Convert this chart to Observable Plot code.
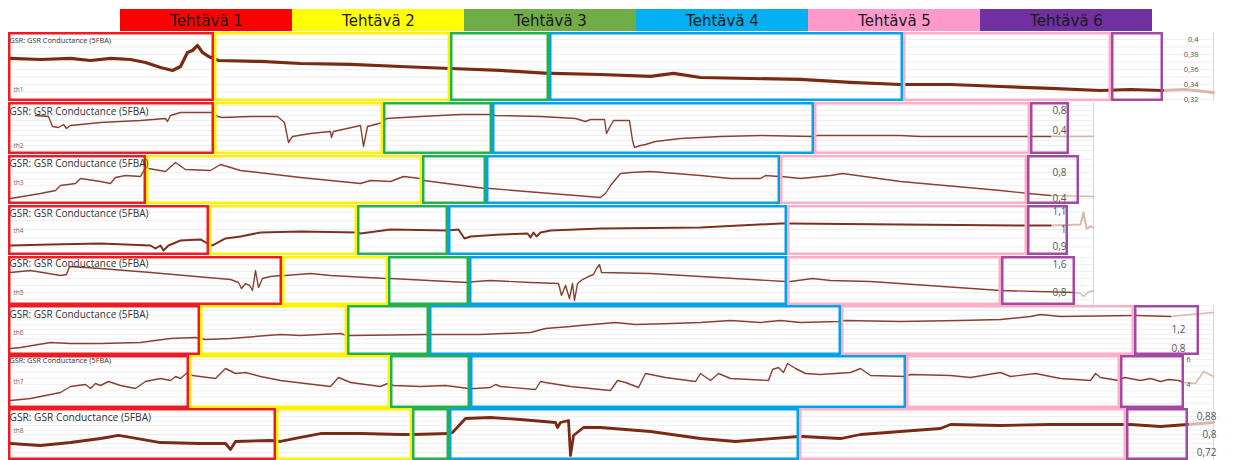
<!DOCTYPE html>
<html><head><meta charset="utf-8">
<script src="https://cdn.jsdelivr.net/npm/d3@7"></script>
<script src="https://cdn.jsdelivr.net/npm/@observablehq/plot@0.6"></script>
<style>
body{margin:0;background:#fff;}
#chart{position:relative;width:1237px;height:460px;overflow:hidden;background:#fff;}
#chart svg{position:absolute;left:0;}
</style></head><body><div id="chart"></div>
<script>
// ---------- data ----------
const tasks = ["Tehtävä 1","Tehtävä 2","Tehtävä 3","Tehtävä 4","Tehtävä 5","Tehtävä 6"];
const participants = ["th1","th2","th3","th4","th5","th6","th7","th8"];
const seriesTitle = "GSR: GSR Conductance (5FBA)";

// task boundaries (time index) per participant
const th1Bounds = [8,214,450,549,903,1111,1163];
const th2Bounds = [8,214,383,492,814,1030,1069];
const th3Bounds = [8,146,422,486,780,1027,1079];
const th4Bounds = [8,209,357,448,787,1027,1068];
const th5Bounds = [8,282,388,469,787,1001,1075];
const th6Bounds = [8,200,347,429,841,1134,1199];
const th7Bounds = [8,189,390,470,906,1120,1184];
const th8Bounds = [8,276,412,449,799,1126,1188];

// y axis limits and tick labels
const th1Range = [0.3173,0.4093]; const th1Ticks = [0.32,0.34,0.36,0.38,0.4];
const th2Range = [-0.08,0.96];    const th2Ticks = [0.4,0.8];
const th3Range = [0.3077,1.0615]; const th3Ticks = [0.4,0.8];
const th4Range = [0.8514,1.1371]; const th4Ticks = [0.9,1,1.1];
const th5Range = [0.4286,1.8286]; const th5Ticks = [0.8,1.6];
const th6Range = [0.6526,1.7053]; const th6Ticks = [0.8,1.2];
const th7Range = [2.08,6.32];     const th7Ticks = [4,6];
const th8Range = [0.6844,0.9156]; const th8Ticks = [0.72,0.8,0.88];

// GSR conductance signals [time, value]
const th1Signal = [[10,0.3747],[40,0.3733],[70,0.3747],[90,0.372],[110,0.3747],[130,0.3733],[145,0.3693],[160,0.3627],[172,0.3587],[180,0.364],[187,0.3827],[192,0.3853],[197,0.392],[202,0.3827],[208,0.3773],[213,0.3747],[218,0.372],[260,0.3707],[300,0.368],[350,0.3667],[400,0.364],[450,0.3613],[500,0.3587],[548,0.3547],[552,0.3547],[600,0.3533],[650,0.3507],[673,0.3547],[700,0.3493],[750,0.348],[800,0.3467],[850,0.3427],[900,0.34],[950,0.34],[1000,0.3373],[1050,0.3347],[1100,0.332],[1130,0.3333],[1162,0.332]];
const th1Tail = [[1162,0.332],[1185,0.3333],[1213,0.3293]];

const th2Signal = [[35,0.70],[48,0.68],[52,0.48],[58,0.46],[63,0.52],[66,0.44],[70,0.50],[100,0.56],[140,0.60],[165,0.64],[167,0.58],[170,0.70],[180,0.76],[213,0.76],[217,0.68],[222,0.66],[250,0.68],[277,0.68],[284,0.56],[288,0.16],[292,0.28],[310,0.34],[330,0.38],[331,0.26],[333,0.38],[360,0.50],[363,0.08],[367,0.48],[382,0.56],[386,0.64],[420,0.68],[460,0.72],[491,0.72],[495,0.70],[540,0.68],[575,0.64],[585,0.58],[590,0.62],[604,0.62],[606,0.34],[609,0.46],[613,0.60],[629,0.60],[632,0.20],[634,0.06],[640,0.10],[645,0.12],[655,0.18],[680,0.24],[720,0.28],[760,0.30],[812,0.28],[817,0.30],[900,0.30],[920,0.28],[1000,0.28],[1050,0.28]];
const th2Tail = [[1050,0.28],[1093,0.28]];

const th3Signal = [[10,0.40],[40,0.4769],[55,0.5231],[60,0.60],[75,0.6308],[80,0.7077],[100,0.6615],[110,0.6308],[115,0.7231],[125,0.7538],[140,0.7385],[145,0.8769],[148,0.8615],[165,0.8154],[175,0.9538],[185,0.8462],[210,0.8308],[220,0.9231],[240,0.8308],[300,0.7231],[360,0.6308],[370,0.6769],[390,0.6615],[403,0.7385],[420,0.7077],[423,0.6769],[485,0.5538],[490,0.5538],[550,0.4769],[600,0.4154],[605,0.4769],[610,0.60],[620,0.7846],[630,0.80],[650,0.8154],[700,0.7538],[730,0.7077],[760,0.7077],[765,0.7538],[778,0.7385],[781,0.7385],[800,0.7077],[830,0.7538],[842,0.7846],[900,0.6615],[1000,0.5231],[1028,0.4769],[1050,0.4462]];
const th3Tail = [[1050,0.4462],[1093,0.4308]];

const th4Signal = [[10,0.9086],[50,0.9143],[100,0.92],[150,0.9086],[155,0.8914],[160,0.9086],[163,0.88],[168,0.9086],[180,0.9371],[200,0.9429],[207,0.92],[212,0.9086],[225,0.9486],[240,0.96],[260,0.9829],[300,0.9886],[357,0.9829],[360,0.9771],[390,1.0],[447,0.9943],[458,1.0],[464,0.9486],[470,0.96],[500,0.9714],[527,0.9771],[530,0.9543],[533,0.9829],[536,0.96],[540,0.9829],[550,0.9943],[600,1.0057],[700,1.0114],[780,1.0343],[790,1.0343],[900,1.0286],[1020,1.0229],[1050,1.0229]];
const th4Tail = [[1050,1.0229],[1080,1.0286],[1083,1.0971],[1086,1.0057],[1090,1.0171],[1093,1.0114]];

const th5Signal = [[10,1.3714],[30,1.4286],[60,1.2857],[66,1.3143],[69,1.5429],[100,1.4857],[150,1.3714],[230,1.1714],[238,1.0857],[241,0.9143],[245,1.0571],[249,1.0],[252,0.8571],[255,1.4286],[258,0.9429],[262,1.2],[270,1.2571],[280,1.2857],[285,1.2857],[310,1.3429],[330,1.2857],[385,1.20],[390,1.20],[467,1.0857],[475,1.1143],[490,1.1429],[530,1.0857],[558,1.0571],[561,0.7143],[565,1.0],[569,0.6286],[572,1.0571],[574,0.5714],[577,1.0571],[582,1.1714],[588,1.2571],[593,1.3143],[596,1.4857],[599,1.6],[601,1.3714],[650,1.3429],[700,1.2571],[785,1.1143],[790,1.1143],[812,1.20],[830,1.1429],[870,1.1143],[1000,0.8571],[1074,0.80]];
const th5Tail = [[1074,0.80],[1080,0.7714],[1083,0.6857],[1087,0.80],[1093,0.8571]];

const th6Signal = [[10,0.80],[20,0.8211],[50,0.9263],[70,0.9053],[100,0.9053],[140,0.9263],[170,1.0105],[195,1.0316],[205,0.9895],[230,1.0105],[280,1.0947],[300,1.0737],[340,1.1158],[346,1.0737],[350,1.0737],[428,1.0947],[432,1.0947],[480,1.0947],[530,1.1368],[545,1.2211],[570,1.2632],[580,1.2842],[615,1.3474],[635,1.3053],[670,1.3263],[700,1.3474],[730,1.3895],[760,1.3474],[780,1.3895],[800,1.3474],[838,1.3684],[845,1.3895],[900,1.3684],[960,1.3895],[1000,1.4105],[1030,1.4737],[1040,1.5158],[1060,1.4737],[1134,1.4947],[1137,1.4947],[1170,1.4737]];
const th6Tail = [[1170,1.4737],[1190,1.5158],[1213,1.5579]];

const th7Signal = [[10,2.72],[30,2.88],[50,3.20],[60,3.36],[70,3.84],[85,4.00],[90,3.68],[95,4.08],[100,3.92],[108,4.24],[120,3.92],[135,3.68],[145,4.24],[160,4.48],[170,4.32],[175,4.64],[180,4.48],[187,4.96],[192,4.72],[215,4.48],[225,5.28],[235,4.88],[245,4.96],[260,4.64],[280,4.32],[330,3.84],[338,4.56],[350,4.16],[380,3.84],[387,4.08],[393,3.92],[420,3.84],[445,3.92],[468,3.68],[475,3.68],[490,3.76],[495,4.00],[500,3.84],[535,3.60],[540,4.24],[545,4.16],[570,3.84],[610,3.52],[617,4.32],[625,4.16],[638,3.76],[645,4.88],[665,4.56],[695,4.24],[700,4.88],[710,4.32],[718,4.88],[730,4.48],[768,4.32],[772,5.20],[778,5.36],[783,4.96],[787,5.68],[795,5.28],[805,4.88],[820,4.80],[850,4.96],[860,5.28],[870,4.72],[905,4.64],[910,4.80],[950,4.72],[970,4.56],[1000,4.96],[1010,4.64],[1035,4.88],[1060,4.48],[1090,4.32],[1095,4.88],[1100,4.56],[1118,4.32],[1124,4.56],[1140,4.32],[1150,4.48],[1160,4.24],[1168,4.40],[1178,4.32],[1183,4.16]];
const th7Tail = [[1183,4.16],[1195,4.08],[1203,5.04],[1213,4.64]];

const th8Signal = [[10,0.76],[40,0.7511],[70,0.7644],[100,0.7822],[118,0.7956],[130,0.7867],[160,0.7644],[200,0.76],[225,0.76],[230,0.7333],[235,0.7689],[270,0.7733],[280,0.7689],[300,0.7867],[320,0.8044],[360,0.8044],[400,0.80],[411,0.80],[413,0.80],[448,0.8044],[452,0.8089],[465,0.8711],[490,0.8756],[520,0.8667],[555,0.8533],[557,0.8311],[560,0.8533],[568,0.8622],[570,0.7067],[573,0.7956],[583,0.8311],[600,0.8311],[650,0.8133],[700,0.7822],[735,0.7689],[760,0.7778],[798,0.7911],[802,0.7911],[840,0.7822],[860,0.80],[900,0.8133],[940,0.8267],[950,0.8444],[1000,0.84],[1050,0.8444],[1126,0.8444],[1130,0.8444],[1160,0.8356],[1187,0.8444]];
const th8Tail = [[1187,0.8444],[1213,0.8533]];

// ---------- styling / layout ----------
const headerColors = ["#ff0000","#ffff00","#70ad47","#00b0f0","#ff99cc","#7030a0"];
const boxColors = ["#ed1c24","#fff200","#22b14c","#00a2e8","#ffaec9","#a349a4"];
const rows = [
  {name:"th1", bounds:th1Bounds, range:th1Range, ticks:th1Ticks, signal:th1Signal, tail:th1Tail, top:32, bottom:101, end:1213, sw:3.2, col:"#7a2a12", axisX:1198, tickSize:7.5, titleSize:7.3, titleDy:8, labDy:57},
  {name:"th2", bounds:th2Bounds, range:th2Range, ticks:th2Ticks, signal:th2Signal, tail:th2Tail, top:102, bottom:154, end:1093, sw:1.4, col:"#8a4030", axisX:1066, tickSize:10, titleSize:10, titleDy:9, labDy:43},
  {name:"th3", bounds:th3Bounds, range:th3Range, ticks:th3Ticks, signal:th3Signal, tail:th3Tail, top:155, bottom:204, end:1093, sw:1.4, col:"#8a4030", axisX:1066, tickSize:10, titleSize:10, titleDy:8, labDy:27},
  {name:"th4", bounds:th4Bounds, range:th4Range, ticks:th4Ticks, signal:th4Signal, tail:th4Tail, top:205, bottom:255, end:1093, sw:2.0, col:"#7e3020", axisX:1066, tickSize:10, titleSize:10, titleDy:8, labDy:25},
  {name:"th5", bounds:th5Bounds, range:th5Range, ticks:th5Ticks, signal:th5Signal, tail:th5Tail, top:256, bottom:305, end:1093, sw:1.4, col:"#8a4030", axisX:1066, tickSize:10, titleSize:10, titleDy:7, labDy:36},
  {name:"th6", bounds:th6Bounds, range:th6Range, ticks:th6Ticks, signal:th6Signal, tail:th6Tail, top:305, bottom:355, end:1213, sw:1.5, col:"#8a4030", axisX:1185, tickSize:10, titleSize:10, titleDy:9, labDy:27},
  {name:"th7", bounds:th7Bounds, range:th7Range, ticks:th7Ticks, signal:th7Signal, tail:th7Tail, top:355, bottom:408, end:1213, sw:1.4, col:"#8a4030", axisX:1190, tickSize:7, titleSize:7.3, titleDy:5, labDy:26},
  {name:"th8", bounds:th8Bounds, range:th8Range, ticks:th8Ticks, signal:th8Signal, tail:th8Tail, top:408, bottom:460, end:1213, sw:2.8, col:"#7a2a12", axisX:1216, tickSize:10, titleSize:10.2, titleDy:9, labDy:22}
];
const fmt = d => String(d).replace(".", ",");
const chart = document.getElementById("chart");

// header
const header = Plot.plot({
  width:1237, height:32, marginTop:9, marginBottom:1, marginLeft:0, marginRight:0,
  x:{type:"band", domain:tasks, range:[117,1154], padding:0, axis:null},
  color:{domain:tasks, range:headerColors},
  style:{background:"transparent"},
  marks:[
    Plot.cell(tasks, {x:d=>d, fill:d=>d}),
    Plot.text(tasks, {x:d=>d, text:d=>d, fontSize:15, fill:"#1a1a1a", fontFamily:"DejaVu Sans", dy:1})
  ]
});
header.style.top = "0px";
chart.appendChild(header);

rows.forEach((r, ri) => {
  const h = r.bottom - r.top;
  const segs = d3.pairs(r.bounds).map(([a,b],i) => ({x1:a, x2:b, task:tasks[i]}));
  const grid = d3.ticks(r.range[0], r.range[1], 9);
  const p = Plot.plot({
    width:1237, height:h, margin:0,
    x:{domain:[0,1237], range:[0,1237], axis:null},
    y:{domain:r.range, range:[h,0], axis:null},
    color:{domain:tasks, range:boxColors},
    style:{background:"transparent", overflow:"visible"},
    marks:[
      Plot.ruleY(grid, {x1:r.bounds[0], x2:r.end, stroke:"#efefef", strokeWidth:1}),
      Plot.ruleX([r.end], {stroke:"#d8d8d8", strokeWidth:1}),
      Plot.line(r.tail, {x:d=>d[0], y:d=>d[1], stroke:"#d9b8aa", strokeWidth:r.sw, clip:true}),
      Plot.line(r.signal, {x:d=>d[0], y:d=>d[1], stroke:r.col, strokeWidth:r.sw, strokeLinejoin:"round", clip:true}),
      Plot.text(r.ticks, {x:r.axisX, y:d=>d, text:fmt, textAnchor:"end", fontSize:r.tickSize, fill:"#555", fontFamily:"Open Sans"}),
      Plot.rect(segs, {x1:"x1", x2:"x2", stroke:"task", fill:"none", strokeWidth:2.5, inset:1.25}),
      Plot.text([seriesTitle], {frameAnchor:"top-left", dx:9, dy:r.titleDy, lineAnchor:"middle", textAnchor:"start", fontSize:r.titleSize, fill:"#333", fontFamily:"Open Sans"}),
      Plot.text([participants[ri]], {frameAnchor:"top-left", dx:13, dy:r.labDy, lineAnchor:"middle", textAnchor:"start", fontSize:6.5, fill:"#666", fontFamily:"Open Sans"})
    ]
  });
  p.style.top = r.top + "px";
  chart.appendChild(p);
});
</script>
</body></html>
